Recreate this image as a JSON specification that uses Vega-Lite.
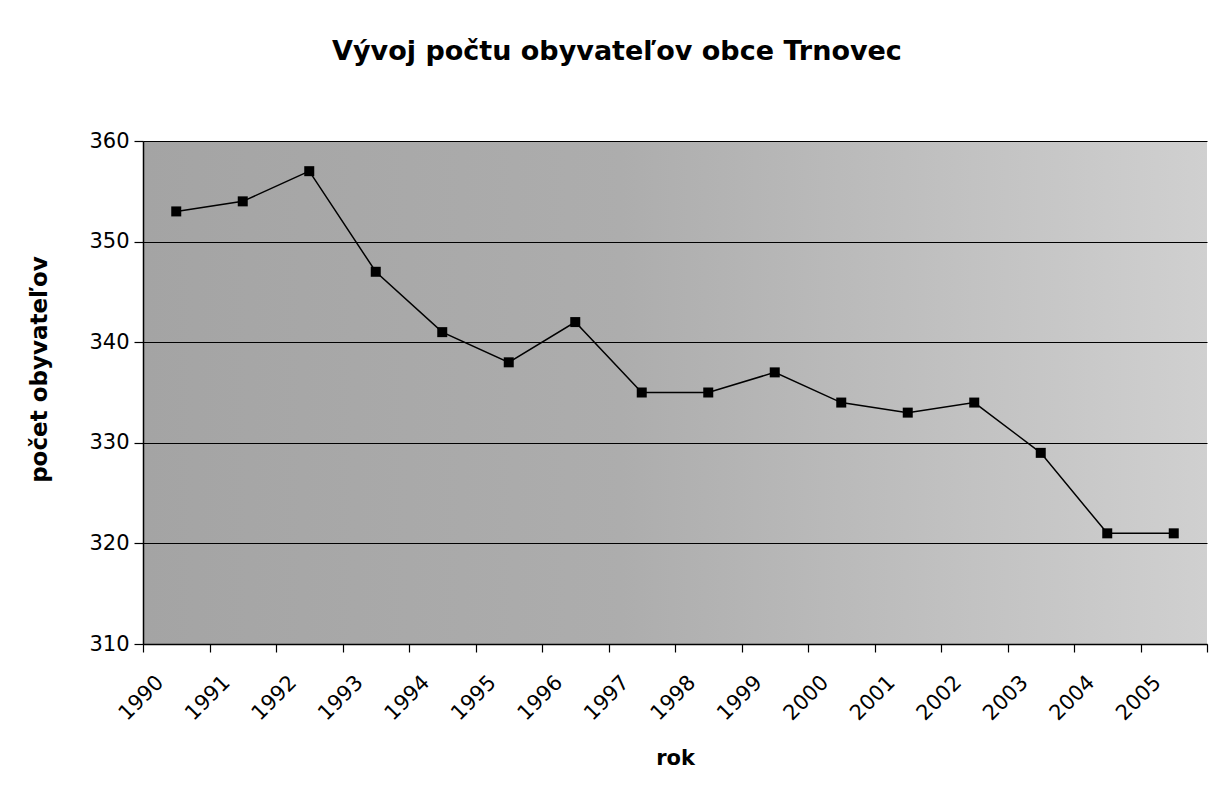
{
  "$schema": "https://vega.github.io/schema/vega-lite/v6.json",
  "autosize": "none",
  "width": 1064,
  "height": 503,
  "padding": {"left": 143, "top": 141, "right": 6, "bottom": 156},
  "background": "white",
  "title": {
    "text": "Vývoj počtu obyvateľov obce Trnovec",
    "font": "DejaVu Sans",
    "fontSize": 27,
    "fontWeight": "bold",
    "color": "black",
    "anchor": "middle",
    "frame": "bounds",
    "baseline": "alphabetic",
    "offset": 43,
    "dx": -13
  },
  "config": {
    "view": {"stroke": null},
    "axis": {
      "labelFont": "DejaVu Sans",
      "labelFontSize": 21,
      "labelColor": "black",
      "titleFont": "DejaVu Sans",
      "titleFontSize": 21,
      "titleFontWeight": "bold",
      "titleColor": "black",
      "domainColor": "black",
      "tickColor": "black",
      "domainWidth": 1.5,
      "tickWidth": 1.2
    }
  },
  "layer": [
    {
      "data": {"values": [{"bg": 1}]},
      "mark": {
        "type": "rect",
        "fill": {
          "x1": 0, "y1": 0, "x2": 1, "y2": 0,
          "gradient": "linear",
          "stops": [
            {"offset": 0, "color": "#a4a4a4"},
            {"offset": 0.45, "color": "#adadad"},
            {"offset": 1, "color": "#d0d0d0"}
          ]
        }
      },
      "encoding": {}
    },
    {
      "data": {
        "values": [
          {"rok": 1990, "obyvatelia": 353},
          {"rok": 1991, "obyvatelia": 354},
          {"rok": 1992, "obyvatelia": 357},
          {"rok": 1993, "obyvatelia": 347},
          {"rok": 1994, "obyvatelia": 341},
          {"rok": 1995, "obyvatelia": 338},
          {"rok": 1996, "obyvatelia": 342},
          {"rok": 1997, "obyvatelia": 335},
          {"rok": 1998, "obyvatelia": 335},
          {"rok": 1999, "obyvatelia": 337},
          {"rok": 2000, "obyvatelia": 334},
          {"rok": 2001, "obyvatelia": 333},
          {"rok": 2002, "obyvatelia": 334},
          {"rok": 2003, "obyvatelia": 329},
          {"rok": 2004, "obyvatelia": 321},
          {"rok": 2005, "obyvatelia": 321}
        ]
      },
      "encoding": {
        "x": {
          "field": "rok",
          "type": "quantitative",
          "scale": {"domain": [1989.5, 2005.5], "nice": false, "zero": false},
          "axis": {
            "title": "rok",
            "values": [1989.5, 1990.5, 1991.5, 1992.5, 1993.5, 1994.5, 1995.5, 1996.5, 1997.5, 1998.5, 1999.5, 2000.5, 2001.5, 2002.5, 2003.5, 2004.5, 2005.5],
            "labelExpr": "datum.value > 2005 ? '' : toString(datum.value + 0.5)",
            "grid": false,
            "tickSize": 8,
            "labelAngle": -45,
            "labelAlign": "right",
            "labelBaseline": "middle",
            "labelOffset": 17,
            "labelPadding": 27,
            "labelFlush": false,
            "labelOverlap": false,
            "labelBound": false,
            "titlePadding": 24,
            "zindex": 1
          }
        },
        "y": {
          "field": "obyvatelia",
          "type": "quantitative",
          "scale": {"domain": [310, 360], "nice": false, "zero": false},
          "axis": {
            "title": "počet obyvateľov",
            "values": [310, 320, 330, 340, 350, 360],
            "grid": true,
            "gridColor": "black",
            "gridWidth": 1.2,
            "gridOpacity": 1,
            "tickSize": 9,
            "labelPadding": 5,
            "titlePadding": 37,
            "titleFontSize": 23,
            "titleY": 228,
            "zindex": 1
          }
        }
      },
      "layer": [
        {"mark": {"type": "line", "color": "black", "strokeWidth": 1.5}},
        {"mark": {"type": "point", "shape": "square", "filled": true, "color": "black", "size": 100, "opacity": 1}}
      ]
    }
  ]
}
